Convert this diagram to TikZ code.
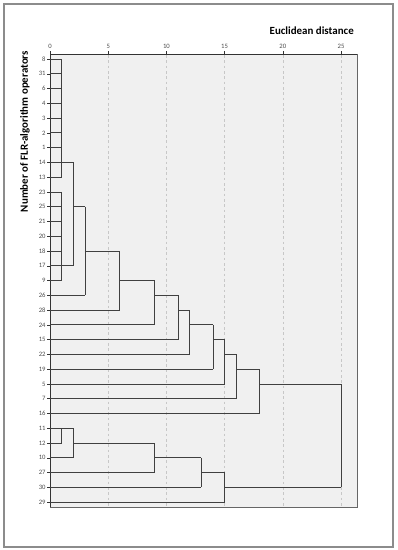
\documentclass[tikz,border=0pt]{standalone}
\usepackage{fontspec}
\setmainfont{Carlito}
\begin{document}
\begin{tikzpicture}[x=0.75pt, y=-0.75pt,
  link/.style={draw=black!75, line width=0.6pt},
  grid line/.style={draw=black!22, line width=0.4pt, dash pattern=on 2pt off 2pt},
  leaf label/.style={anchor=east, font=\fontsize{5}{6}\selectfont, text=black!70, inner sep=0.5pt},
  tick label/.style={anchor=south, font=\fontsize{5}{6}\selectfont, text=black!70, inner sep=0.5pt},
  axis title/.style={font=\bfseries\fontsize{8.2}{10}\selectfont, inner sep=0pt}]

  % pixel grid: distance unit and row step
  \def\dx{11.64}
  \def\dy{14.77}

  \useasboundingbox (0,0) rectangle (397,550);

  % outer frame and plot area
  \draw[black!45, line width=0.8pt] (4,4) rectangle (393,547);
  \fill[black!6] (50,55) rectangle (357,507);
  \foreach \t in {5,10,...,25}
    \draw[grid line] ({50+\dx*\t},55) -- ({50+\dx*\t},507);
  \draw[black!60, line width=0.6pt] (50,507) -- (357,507) -- (357,54);

  % axes with ticks
  \draw[black!80, line width=0.6pt] (50,54) -- (357,54);
  \draw[black!80, line width=0.6pt] (50,54) -- (50,507);
  \foreach \t in {0,5,...,25} {
    \draw[black!80, line width=0.4pt] ({50+\dx*\t},54) -- ({50+\dx*\t},50.5);
    \node[tick label] (tick\t) at ({50+\dx*\t},49.5) {\t};
  }

  % titles
  \node[axis title, anchor=east] (xtitle) at (354,31) {Euclidean distance};
  \node[axis title, rotate=90] (ytitle) at (25,131.5) {Number of FLR-algorithm operators};

  % leaves (top to bottom)
  \foreach \lab [count=\i from 0] in {8,31,6,4,3,2,1,14,13,23,25,21,20,18,17,9,26,28,24,15,22,19,5,7,16,11,12,10,27,30,29} {
    \coordinate (r\i) at (50,{59+\dy*\i});
    \draw[black!80, line width=0.4pt] (r\i) -- ++(-3,0);
    \node[leaf label] (lab\lab) at (46.5,{59+\dy*\i}) {\lab};
  }

  % leaf lines: row / first merge distance
  \foreach \r/\d in {0/1,1/1,2/1,3/1,4/1,5/1,6/1,7/1,8/1,
                     9/1,10/1,11/1,12/1,13/1,14/1,15/1,
                     16/3,17/6,18/9,19/11,20/12,21/14,22/15,23/16,24/18,
                     25/1,26/1,27/2,28/9,29/13,30/15}
    \draw[link] (r\r) -- ({50+\dx*\d},{59+\dy*\r});

  % merges: distance / from row / to row / out row / next distance
  \foreach \d/\a/\b/\m/\n in {1/0/8/7/2, 1/9/15/14/2, 2/7/14/10/3, 3/10/16/13/6,
                              6/13/17/15/9, 9/15/18/16/11, 11/16/19/17/12,
                              12/17/20/18/14, 14/18/21/19/15, 15/19/22/20/16,
                              16/20/23/21/18, 18/21/24/22/25,
                              1/25/26/25/2, 2/25/27/26/9, 9/26/28/27/13,
                              13/27/29/28/15, 15/28/30/29/25} {
    \draw[link] ({50+\dx*\d},{59+\dy*\a}) -- ({50+\dx*\d},{59+\dy*\b});
    \draw[link] ({50+\dx*\d},{59+\dy*\m}) -- ({50+\dx*\n},{59+\dy*\m});
  }
  % last merge
  \draw[link] ({50+\dx*25},{59+\dy*22}) -- ({50+\dx*25},{59+\dy*29});
\end{tikzpicture}
\end{document}
